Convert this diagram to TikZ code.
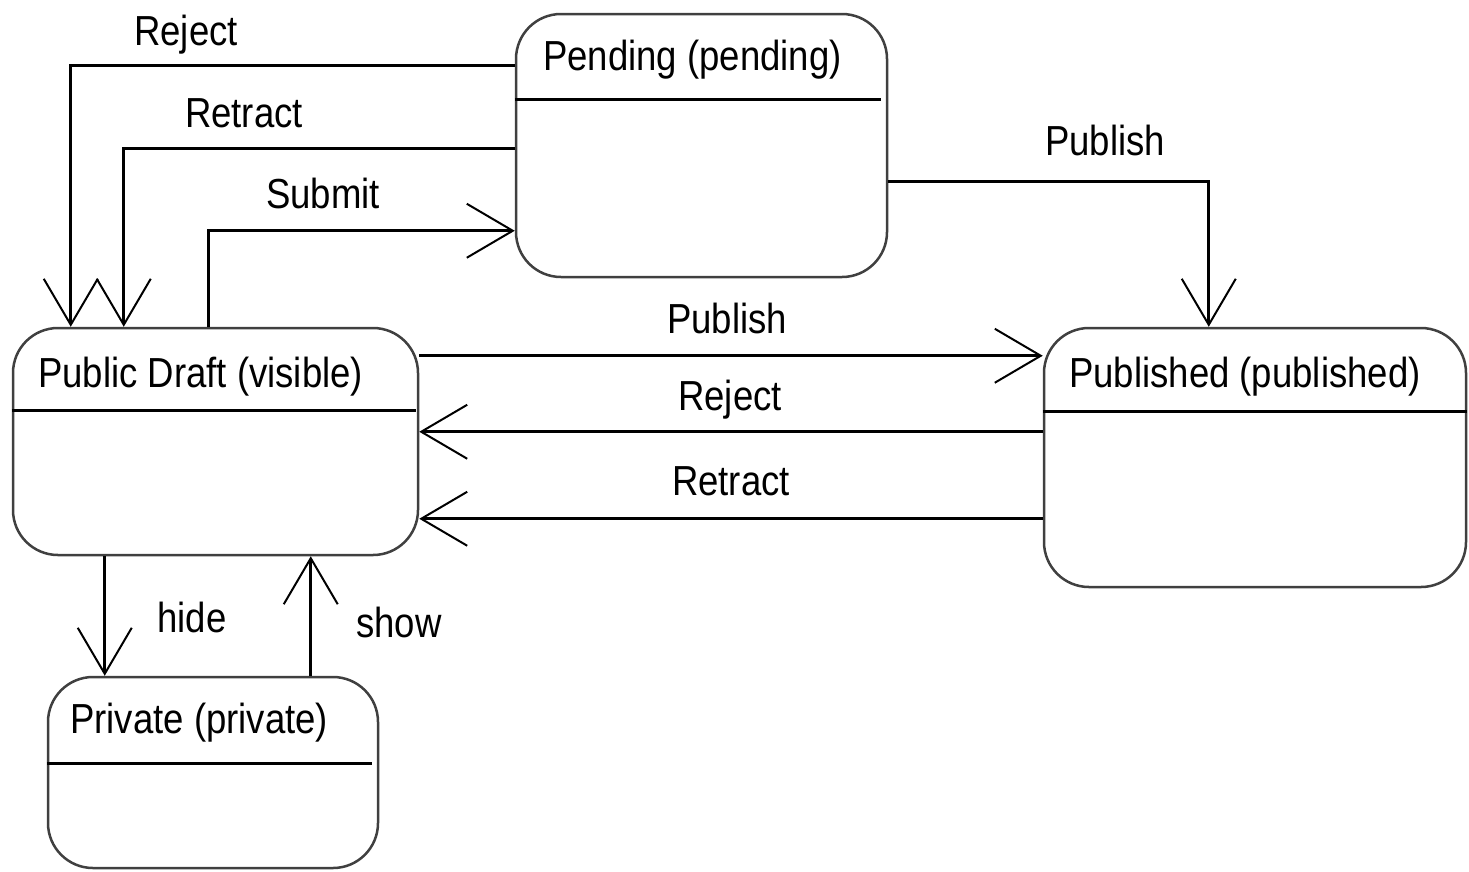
\documentclass[tikz,border=0pt]{standalone}
\usepackage{fontspec}
\setmainfont{Liberation Sans}[FakeStretch=0.87]
\usetikzlibrary{arrows.meta}
\begin{document}
\begin{tikzpicture}[x=1pt,y=-1pt,
  state/.style={draw=black!75,line width=2.5pt,rounded corners=45pt,rectangle,inner sep=0pt},
  divider/.style={draw=black,line width=3pt},
  conn/.style={draw=black,line width=3pt},
  arr/.style={-{Straight Barb[length=46pt,width=54pt,line width=2pt]}},
  txt/.style={font=\fontsize{42pt}{50pt}\selectfont,inner sep=0pt,text=black},
  title/.style={txt,anchor=base west},
  lbl/.style={txt,anchor=base}]
\useasboundingbox (0,0) rectangle (1469,871);
% states
\node[state,minimum width=371pt,minimum height=263pt] (pend) at (701.5,145.5) {};
\node[state,minimum width=405pt,minimum height=227pt] (draft) at (215.5,441.5) {};
\node[state,minimum width=422pt,minimum height=259pt] (pub) at (1255,457.5) {};
\node[state,minimum width=330pt,minimum height=191pt] (priv) at (213,772.5) {};
% dividers
\draw[divider] ([yshift=-87pt]pend.north west) -- ([yshift=-87pt,xshift=-7pt]pend.north east);
\draw[divider] ([yshift=-84pt]draft.north west) -- ([yshift=-84pt,xshift=-3pt]draft.north east);
\draw[divider] ([yshift=-85pt]pub.north west) -- ([yshift=-85pt]pub.north east);
\draw[divider] ([yshift=-88pt]priv.north west) -- ([yshift=-88pt,xshift=-7pt]priv.north east);
% titles
\node[title] (tpend) at (543,70) {Pending (pending)};
\node[title] (tdraft) at (38,387) {Public Draft (visible)};
\node[title] (tpub) at (1069,387) {Published (published)};
\node[title] (tpriv) at (70,733) {Private (private)};
% connectors
\draw[conn,arr] ([yshift=-53pt]pend.north west) -| ([xshift=59pt]draft.north west);
\draw[conn,arr] ([yshift=-136pt]pend.north west) -| ([xshift=112pt]draft.north west);
\draw[conn,arr] ([xshift=197pt]draft.north west) |- ([yshift=-218pt]pend.north west);
\draw[conn,arr] ([yshift=-169pt]pend.north east) -| ([xshift=166pt]pub.north west);
\draw[conn,arr] ([yshift=-29pt]draft.north east) -- ([yshift=-29pt]pub.north west);
\draw[conn,arr] ([yshift=-105pt]pub.north west) -- ([yshift=-105pt]draft.north east);
\draw[conn,arr] ([yshift=-192pt]pub.north west) -- ([yshift=-192pt]draft.north east);
\draw[conn,arr] ([xshift=93pt]draft.south west) -- ([xshift=58pt]priv.north west);
\draw[conn,arr] ([xshift=264pt]priv.north west) -- ([xshift=299pt]draft.south west);
% labels
\node[lbl] (lrej1) at (186,45) {Reject};
\node[lbl] (lret1) at (244,127) {Retract};
\node[lbl] (lsub) at (323,208) {Submit};
\node[lbl] (lpub1) at (1105,155) {Publish};
\node[lbl] (lpub2) at (727,333) {Publish};
\node[lbl] (lrej2) at (730,410) {Reject};
\node[lbl] (lret2) at (731,495) {Retract};
\node[lbl] (lhide) at (192,632) {hide};
\node[lbl] (lshow) at (399,637) {show};
\end{tikzpicture}
\end{document}
